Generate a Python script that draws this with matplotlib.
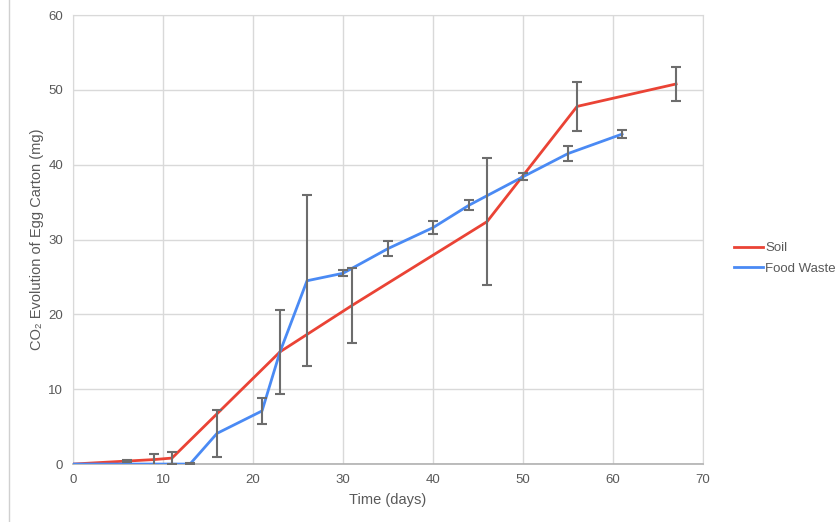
import numpy as np
import matplotlib
matplotlib.use('Agg')
import matplotlib.pyplot as plt
from matplotlib.lines import Line2D

plt.rcParams['font.family'] = ['Liberation Sans', 'DejaVu Sans']

# Soil series
soil_days = [0, 6, 9, 11, 23, 31, 46, 56, 67]
soil_co2 = [0, 0.4, 0.6, 0.8, 15.0, 21.2, 32.4, 47.8, 50.8]
soil_err = [0, 0.1, 0.8, 0.8, 5.6, 5.0, 8.5, 3.3, 2.3]

# Food waste series
food_days = [0, 13, 16, 21, 23, 26, 30, 35, 40, 44, 50, 55, 61]
food_co2 = [0, 0, 4.1, 7.1, 15.0, 24.5, 25.5, 28.8, 31.6, 34.6, 38.4, 41.5, 44.1]
food_err = [0, 0.1, 3.1, 1.7, 0, 11.4, 0.4, 1.0, 0.85, 0.7, 0.45, 1.0, 0.5]

red = '#ea4335'
blue = '#4a8af4'
err_col = '#6d6d6d'
text_col = '#595959'

fig = plt.figure(figsize=(8.39, 5.22), dpi=100)
ax = fig.add_axes([0.087, 0.111, 0.751, 0.860])

ax.plot(soil_days, soil_co2, color=red, lw=2, zorder=3)
ax.plot(food_days, food_co2, color=blue, lw=2, zorder=3)

# error bars (skip points without error)
for xs, ys, es in [(soil_days, soil_co2, soil_err), (food_days, food_co2, food_err)]:
    xs, ys, es = np.array(xs), np.array(ys), np.array(es)
    m = es > 0
    ax.errorbar(xs[m], ys[m], yerr=es[m], fmt='none', ecolor=err_col,
                elinewidth=1.5, capsize=3.5, capthick=1.5, zorder=4)

ax.set_xlim(0, 70)
ax.set_ylim(0, 60)
ax.set_xticks(np.arange(0, 71, 10))
ax.set_yticks(np.arange(0, 61, 10))
ax.grid(True, color='#d9d9d9', lw=1)
ax.set_axisbelow(True)
for s in ['top', 'right', 'left']:
    ax.spines[s].set_color('#d9d9d9')
ax.spines['bottom'].set_color('#b0b0b0')
ax.spines['bottom'].set_linewidth(1.2)
ax.tick_params(length=0, labelsize=9.5, colors=text_col, pad=7)

ax.set_xlabel('Time (days)', fontsize=10.5, color=text_col, labelpad=5)
ax.set_ylabel('CO₂ Evolution of Egg Carton (mg)', fontsize=10.5, color=text_col, labelpad=3)

handles = [Line2D([], [], color=red, lw=2), Line2D([], [], color=blue, lw=2)]
fig.legend(handles, ['Soil', 'Food Waste'], loc='center left',
           bbox_to_anchor=(0.864, 0.505), frameon=False, fontsize=9.5,
           labelcolor=text_col, handlelength=2.2, handletextpad=0.15,
           labelspacing=0.6, borderpad=0.2)

# left border of the panel
fig.add_artist(Line2D([9 / 839, 9 / 839], [0, 1], color='#d0d0d0', lw=1))

fig.savefig('out.png', dpi=100)
